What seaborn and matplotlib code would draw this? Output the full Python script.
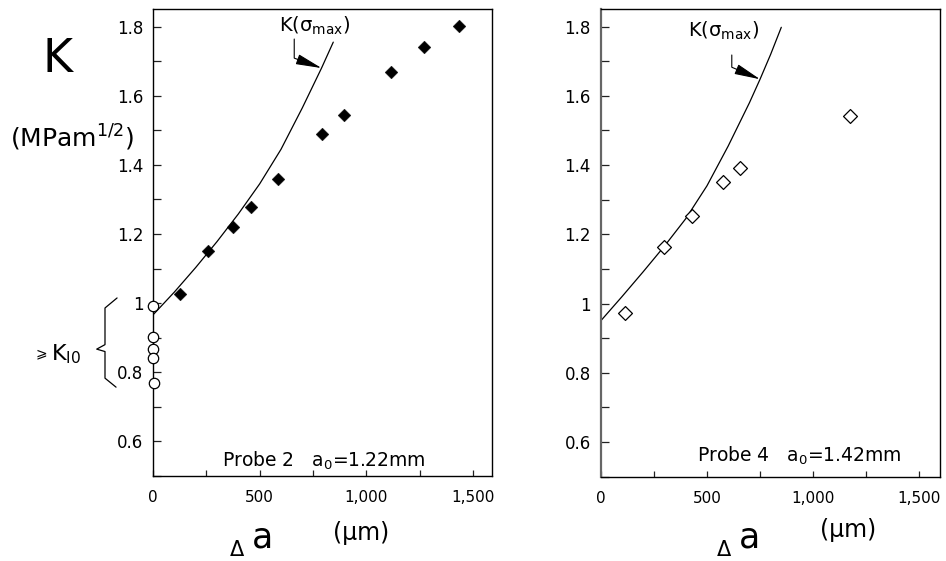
import matplotlib
matplotlib.use("Agg")
import matplotlib.pyplot as plt
import matplotlib.transforms as mtransforms
from matplotlib.ticker import FixedLocator, MultipleLocator, FuncFormatter
import seaborn as sns

# Probe 2 (a0 = 1.22 mm): measured K versus crack extension
p2_da = [127, 256, 376, 461, 584, 794, 894, 1114, 1272, 1433]
p2_k = [1.027, 1.151, 1.219, 1.278, 1.360, 1.489, 1.543, 1.670, 1.742, 1.802]
# initiation values K_I0 at zero extension
p2_ki0_da = [0, 0, 0, 0, 3]
p2_ki0 = [0.993, 0.902, 0.867, 0.842, 0.768]
# K(sigma_max) for probe 2
p2_curve_da = [0, 100, 200, 300, 400, 500, 600, 700, 790, 845]
p2_curve_k = [0.966, 1.032, 1.103, 1.178, 1.258, 1.345, 1.445, 1.565, 1.680, 1.755]

# Probe 4 (a0 = 1.42 mm)
p4_da = [114, 299, 431, 574, 656, 1174]
p4_k = [0.973, 1.164, 1.253, 1.352, 1.392, 1.543]
p4_curve_da = [0, 100, 200, 300, 400, 500, 600, 700, 750, 800, 850]
p4_curve_k = [0.950, 1.020, 1.092, 1.166, 1.245, 1.340, 1.455, 1.580, 1.648, 1.720, 1.798]

x_ticks = [0, 500, 1000, 1500]
y_ticks = [0.6, 0.8, 1.0, 1.2, 1.4, 1.6, 1.8]

sns.set_style("ticks")
plt.rcParams.update({
    "font.family": ["DejaVu Sans"],
    "mathtext.default": "regular",
    "axes.linewidth": 1.0,
    "axes.edgecolor": "black",
    "text.color": "black",
    "axes.labelcolor": "black",
    "xtick.color": "black",
    "ytick.color": "black",
})

W, H = 946, 561
fig = plt.figure(figsize=(W / 100, H / 100), dpi=100)


def px_box(l, t, r, b):
    return [l / W, 1 - b / H, (r - l) / W, (b - t) / H]


ax1 = fig.add_axes(px_box(153, 9.3, 492, 476))
ax2 = fig.add_axes(px_box(600.7, 9.3, 940, 476.7))


def style_axes(ax, xmax):
    ax.set_xlim(0, xmax)
    ax.set_ylim(0.5, 1.85)
    ax.xaxis.set_major_locator(FixedLocator(x_ticks))
    ax.xaxis.set_minor_locator(MultipleLocator(250))
    ax.yaxis.set_major_locator(FixedLocator(y_ticks))
    ax.yaxis.set_minor_locator(MultipleLocator(0.1))
    ax.xaxis.set_major_formatter(FuncFormatter(lambda v, _: f"{v:,.0f}"))
    ax.yaxis.set_major_formatter(FuncFormatter(lambda v, _: f"{v:g}"))
    ax.tick_params(axis="x", which="both", direction="in", length=4,
                   width=0.9, color="#222222", labelcolor="black",
                   labelsize=11, pad=10)
    ax.tick_params(axis="y", which="both", direction="in", length=6,
                   width=0.9, color="#222222", labelcolor="black",
                   labelsize=12, pad=7)
    ax.tick_params(top=False, right=False)
    for s in ax.spines.values():
        s.set_visible(True)
        s.set_color("black")
        s.set_linewidth(1.0)
    ax.set_xlabel("")
    ax.set_ylabel("")


# ---- left panel: probe 2 ----
sns.lineplot(x=p2_curve_da, y=p2_curve_k, color="black", lw=0.9,
             sort=False, estimator=None, ax=ax1)
sns.scatterplot(x=p2_da, y=p2_k, marker="D", s=42, color="black",
                edgecolor="black", linewidth=0.3, ax=ax1, zorder=3)
sns.scatterplot(x=p2_ki0_da, y=p2_ki0, marker="o", s=56, color="white",
                edgecolor="black", linewidth=0.9, ax=ax1, zorder=4,
                clip_on=False)
style_axes(ax1, 1589)

ax1.annotate("", xy=(p2_curve_da[8], p2_curve_k[8]), xytext=(662, 1.764),
             arrowprops=dict(arrowstyle="-|>,head_length=1.6,head_width=0.32",
                             connectionstyle="angle,angleA=-90,angleB=160,rad=0",
                             color="black", lw=0.8, shrinkA=0, shrinkB=0))
ax1.text(592, 1.786, r"K($\sigma_{max}$)", fontsize=14, va="baseline")
ax1.text(325, 0.528, r"Probe 2   a$_0$=1.22mm", fontsize=13.5, va="baseline")

# brace grouping the initiation values
blend = mtransforms.blended_transform_factory(ax1.transAxes, ax1.transData)
ax1.plot([-0.106, -0.1416, -0.1416, -0.166, -0.1416, -0.1416, -0.109],
         [1.015, 0.986, 0.880, 0.867, 0.860, 0.783, 0.757],
         transform=blend, color="black", lw=0.9, clip_on=False)
fig.text(33 / W, 1 - 358 / H, r"$\geqslant$", fontsize=10, va="baseline")
fig.text(51 / W, 1 - 360 / H, r"K$_{I0}$", fontsize=16, va="baseline")

# ---- right panel: probe 4 ----
sns.lineplot(x=p4_curve_da, y=p4_curve_k, color="black", lw=0.9,
             sort=False, estimator=None, ax=ax2)
sns.scatterplot(x=p4_da, y=p4_k, marker="D", s=50, color="white",
                edgecolor="black", linewidth=0.9, ax=ax2, zorder=3)
style_axes(ax2, 1597)
ax2.spines["left"].set_color("#666666")
ax2.spines["left"].set_linewidth(1.6)

ax2.annotate("", xy=(p4_curve_da[8], p4_curve_k[8]), xytext=(617, 1.718),
             arrowprops=dict(arrowstyle="-|>,head_length=1.6,head_width=0.32",
                             connectionstyle="angle,angleA=-90,angleB=157,rad=0",
                             color="black", lw=0.8, shrinkA=0, shrinkB=0))
ax2.text(410, 1.771, r"K($\sigma_{max}$)", fontsize=14, va="baseline")
ax2.text(455, 0.542, r"Probe 4   a$_0$=1.42mm", fontsize=13.5, va="baseline")

# ---- axis titles ----
fig.text(42 / W, 1 - 72 / H, "K", fontsize=33, va="baseline")
fig.text(10 / W, 1 - 147 / H, r"(MPam$^{1/2}$)", fontsize=18, va="baseline")

for dx, ya, yu in [(0, 548, 540), (487, 547, 537)]:
    fig.text((230 + dx) / W, 1 - 556 / H, "Δ", fontsize=15, va="baseline")
    fig.text((252 + dx) / W, 1 - ya / H, "a", fontsize=25, va="baseline")
    fig.text((333 + dx) / W, 1 - yu / H, "(μm)", fontsize=17, va="baseline")

fig.savefig("out.png", dpi=100)
